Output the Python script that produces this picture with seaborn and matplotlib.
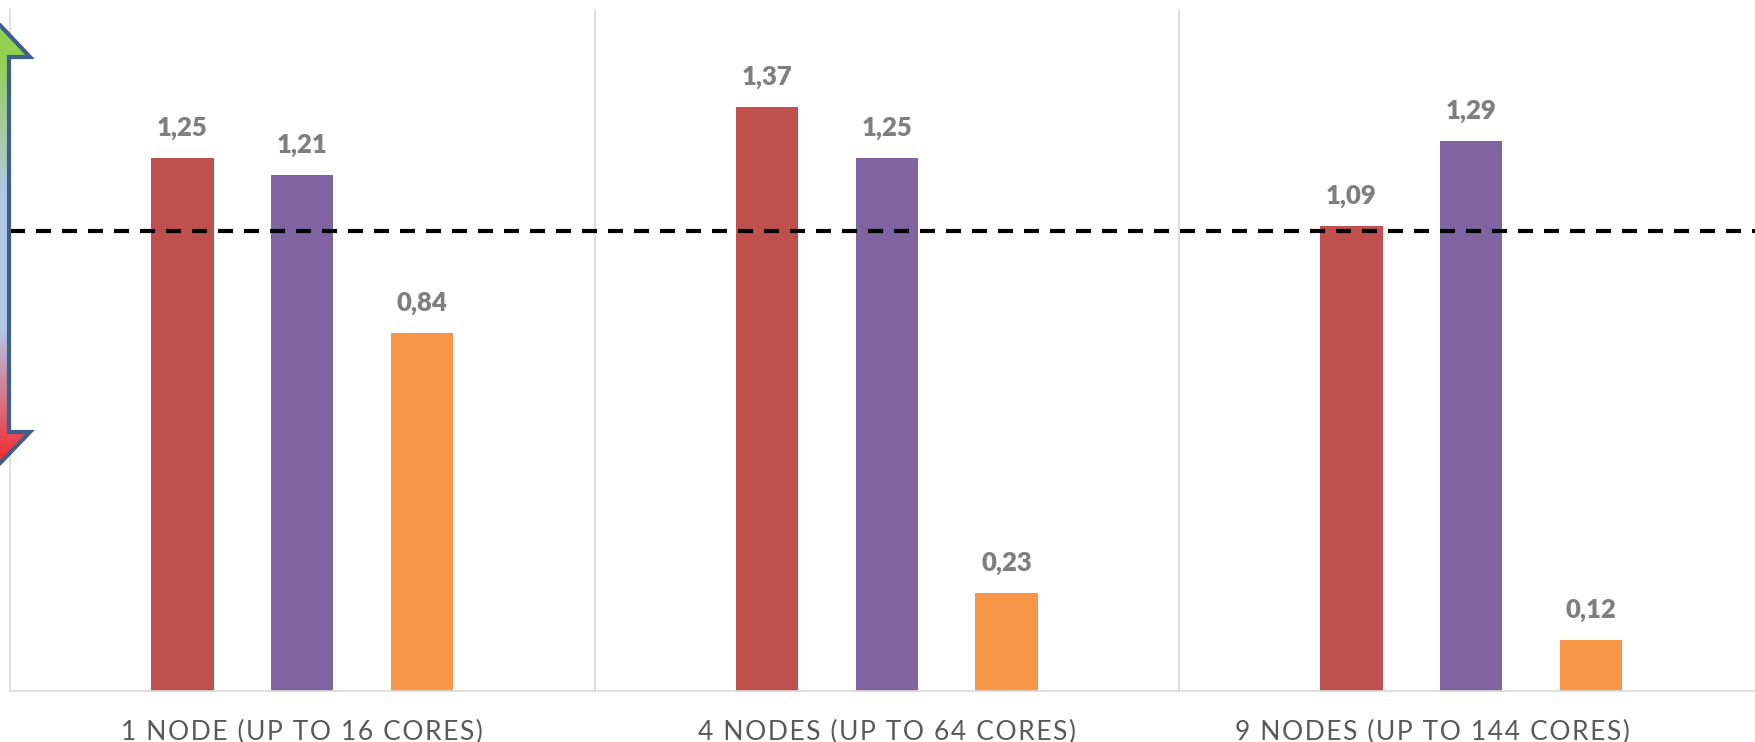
import numpy as np
import pandas as pd
import matplotlib
matplotlib.use("Agg")
import matplotlib.pyplot as plt
import matplotlib.transforms as mtransforms
from matplotlib.patches import Polygon
from matplotlib.colors import LinearSegmentedColormap
import seaborn as sns

# data
categories = ["1 NODE (UP TO 16 CORES)", "4 NODES (UP TO 64 CORES)", "9 NODES (UP TO 144 CORES)"]
series_names = ["Series 1", "Series 2", "Series 3"]
series_red = [1.25, 1.37, 1.09]
series_purple = [1.21, 1.25, 1.29]
series_orange = [0.84, 0.23, 0.12]
reference_level = 1.08
value_labels = [["1,25", "1,37", "1,09"], ["1,21", "1,25", "1,29"], ["0,84", "0,23", "0,12"]]

colors = ["#C0504D", "#8064A2", "#F79646"]

df = pd.DataFrame({
    "category": categories * 3,
    "series": [s for s in series_names for _ in categories],
    "value": series_red + series_purple + series_orange,
})

sns.set_style("white")
plt.rcParams["font.family"] = ["Lato", "DejaVu Sans"]

W, H = 1756, 742
fig = plt.figure(figsize=(W / 100, H / 100), dpi=100)
ax = fig.add_axes([10 / W, (H - 691) / H, (W - 10) / W, (691 - 9) / H])

sns.barplot(data=df, x="category", y="value", hue="series", order=categories,
            hue_order=series_names, palette=colors, width=0.615, gap=0.48,
            saturation=1, legend=False, ax=ax, edgecolor="none")

for cont, labels in zip(ax.containers, value_labels):
    ax.bar_label(cont, labels=labels, padding=13, color="#7F7F7F",
                 fontsize=18.5, fontweight="heavy")

ax.set_xlim(-0.5, 2.487)
ax.set_ylim(0, 1.6)

# group separators
for i in range(len(categories) - 1):
    ax.axvline(i + 0.5, color="#D9D9D9", lw=1.2, zorder=0)

ax.axhline(reference_level, color="black", lw=3, dashes=(3.6, 2.64), zorder=5)

for side in ["top", "right"]:
    ax.spines[side].set_visible(False)
for side in ["left", "bottom"]:
    ax.spines[side].set_color("#D9D9D9")
    ax.spines[side].set_linewidth(1.2)

ax.set_yticks([])
ax.set_xlabel("")
ax.set_ylabel("")
spaced = ["\u200a".join(c) for c in categories]
ax.set_xticks(range(len(categories)))
ax.set_xticklabels(spaced, fontsize=19, color="#595959")
ax.tick_params(axis="x", length=0, pad=20.5)
shift = mtransforms.ScaledTranslation(-39 / 100, 0, fig.dpi_scale_trans)
ax.get_xticklabels()[2].set_transform(ax.get_xticklabels()[2].get_transform() + shift)

# double-headed arrow at the left edge (drawn in pixel coords)
ov = fig.add_axes([0, 0, 1, 1], zorder=10)
ov.set_xlim(0, W)
ov.set_ylim(H, 0)
ov.axis("off")
cx, half_shaft, half_head = -20, 29, 50
top_tip, top_base, bot_base, bot_tip = 4, 57, 432, 484
pts = [(cx, top_tip), (cx + half_head, top_base), (cx + half_shaft, top_base),
       (cx + half_shaft, bot_base), (cx + half_head, bot_base), (cx, bot_tip),
       (cx - half_head, bot_base), (cx - half_shaft, bot_base),
       (cx - half_shaft, top_base), (cx - half_head, top_base)]
arrow = Polygon(pts, closed=True, facecolor="none", edgecolor="#3C5F8C", lw=3, zorder=3)
ov.add_patch(arrow)
cmap = LinearSegmentedColormap.from_list("grad", [
    (0.0, "#92D050"), (0.1, "#92D050"), (0.4, "#B4C7E7"),
    (0.68, "#B4C7E7"), (1.0, "#FF1010")])
grad = np.linspace(0, 1, 256).reshape(-1, 1)
im = ov.imshow(grad, cmap=cmap, aspect="auto",
               extent=(cx - half_head, cx + half_head, bot_tip, top_tip), zorder=2)
im.set_clip_path(arrow)
ov.set_xlim(0, W)
ov.set_ylim(H, 0)

fig.savefig("out.png", dpi=100)
